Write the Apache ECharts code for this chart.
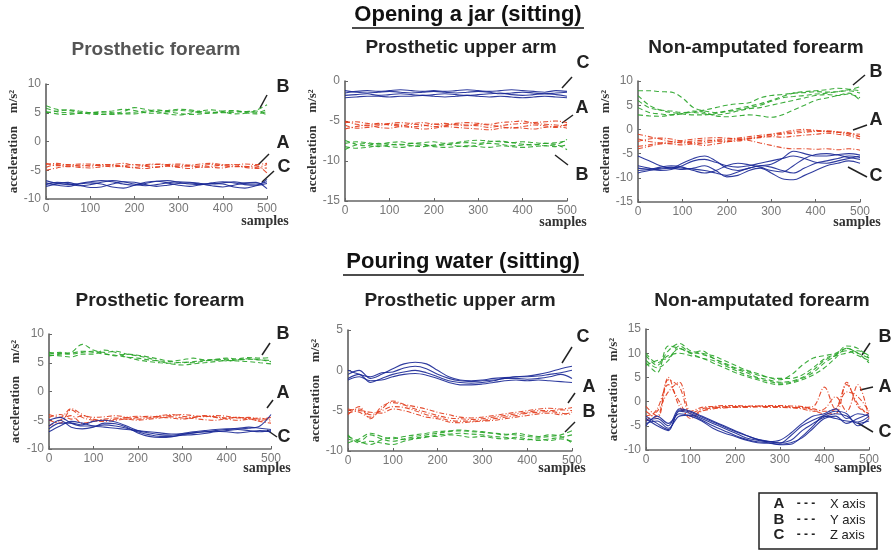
<!DOCTYPE html>
<html><head><meta charset="utf-8">
<script src="https://cdn.jsdelivr.net/npm/echarts@6/dist/echarts.min.js"></script>
<style>html,body{margin:0;padding:0;background:#fff}#c{width:893px;height:552px}</style>
</head><body><div id="c"></div><script>
// sample positions (x)
const samples = [0,25,50,75,100,125,150,175,200,225,250,275,300,325,350,375,400,425,450,475,500];

// ---- Opening a jar : prosthetic forearm ----
const jarForearmX = [
 [-3.8,-4.2,-4.0,-4.3,-4.1,-4.2,-4.4,-4.2,-4.0,-4.3,-4.5,-4.2,-4.1,-4.3,-4.2,-4.0,-4.2,-4.4,-4.3,-4.5,-4.0],
 [-4.5,-4.0,-4.4,-4.1,-4.3,-4.0,-4.1,-4.3,-4.5,-4.2,-4.0,-4.1,-4.4,-4.2,-4.5,-4.3,-4.1,-4.0,-4.4,-4.2,-5.5],
 [-5.0,-4.6,-4.3,-4.5,-4.6,-4.4,-4.2,-4.4,-4.6,-4.7,-4.4,-4.3,-4.5,-4.7,-4.4,-4.5,-4.6,-4.3,-4.5,-4.7,-4.6],
 [-4.0,-3.8,-4.1,-3.9,-3.9,-4.1,-4.0,-3.8,-4.1,-4.0,-3.9,-4.0,-3.9,-4.1,-3.9,-3.8,-4.0,-4.1,-3.9,-4.0,-3.8]];
const jarForearmY = [
 [5.8,5.2,5.0,4.9,5.0,5.1,5.3,5.6,5.4,5.0,4.9,5.2,5.4,5.3,5.0,4.9,5.1,5.3,5.2,5.0,5.6],
 [5.2,4.8,4.7,4.9,5.0,5.2,5.0,4.8,4.8,5.1,5.3,5.4,5.6,5.5,5.2,5.1,5.0,5.1,5.2,5.3,4.6],
 [6.2,5.6,5.4,5.1,4.8,4.7,4.9,5.2,5.9,5.6,5.2,4.8,4.6,4.9,5.3,5.5,5.2,4.8,4.9,5.4,6.4],
 [5.0,5.3,5.5,5.3,5.0,4.8,4.7,4.9,5.1,5.3,5.5,5.2,4.9,4.7,4.8,5.0,5.3,5.4,5.0,4.8,5.2]];
const jarForearmZ = [
 [-6.8,-7.3,-7.5,-7.3,-7.0,-6.8,-7.0,-7.4,-7.6,-7.3,-6.9,-6.8,-7.1,-7.4,-7.5,-7.2,-7.0,-7.2,-7.5,-7.6,-6.6],
 [-7.8,-7.4,-7.1,-7.6,-8.0,-7.9,-7.4,-7.0,-7.1,-7.5,-7.8,-7.6,-7.3,-7.2,-7.4,-7.7,-7.9,-7.6,-7.2,-7.1,-8.2],
 [-7.2,-7.6,-7.8,-7.4,-7.2,-7.4,-7.9,-8.1,-7.6,-7.1,-6.9,-7.2,-7.6,-7.8,-7.5,-7.3,-7.4,-7.9,-8.1,-7.7,-7.3],
 [-7.5,-7.1,-7.3,-7.7,-7.5,-7.1,-6.8,-7.0,-7.4,-7.7,-7.5,-7.2,-7.0,-7.1,-7.3,-7.4,-7.2,-7.0,-7.3,-7.4,-7.0]];

// ---- Opening a jar : prosthetic upper arm ----
const jarUpperX = [
 [-5.0,-5.4,-5.6,-5.3,-5.5,-5.6,-5.4,-5.5,-5.7,-5.6,-5.4,-5.5,-5.6,-5.8,-5.6,-5.4,-5.3,-5.2,-5.1,-5.0,-5.2],
 [-6.0,-5.7,-5.5,-5.8,-5.9,-5.7,-5.8,-6.0,-5.9,-5.7,-5.8,-5.9,-6.0,-6.1,-5.9,-5.8,-5.9,-6.0,-5.8,-5.7,-5.9],
 [-5.5,-5.9,-5.8,-5.6,-5.4,-5.5,-5.7,-5.6,-5.4,-5.3,-5.5,-5.6,-5.4,-5.5,-5.7,-5.9,-5.7,-5.5,-5.6,-5.8,-5.4],
 [-5.2,-5.1,-5.3,-5.4,-5.3,-5.2,-5.3,-5.2,-5.4,-5.5,-5.3,-5.2,-5.3,-5.4,-5.2,-5.1,-5.0,-5.3,-5.4,-5.5,-5.6]];
const jarUpperY = [
 [-7.4,-7.9,-8.1,-7.8,-7.9,-8.0,-7.8,-7.9,-8.1,-8.0,-7.8,-7.7,-7.8,-7.6,-7.5,-7.7,-7.9,-8.0,-7.8,-7.9,-7.3],
 [-8.6,-8.0,-7.8,-8.2,-8.0,-7.9,-8.1,-8.2,-8.0,-7.9,-8.1,-8.2,-8.0,-7.8,-7.9,-8.1,-8.0,-7.9,-8.1,-8.0,-8.6],
 [-8.2,-8.4,-8.3,-8.1,-8.2,-8.3,-8.1,-8.0,-8.2,-8.3,-8.2,-8.1,-8.2,-8.3,-8.1,-8.2,-8.3,-8.2,-8.1,-8.2,-8.0],
 [-7.8,-7.6,-7.7,-7.9,-7.7,-7.6,-7.8,-7.7,-7.6,-7.8,-7.7,-7.5,-7.4,-7.5,-7.6,-7.7,-7.6,-7.7,-7.8,-7.7,-7.5]];
const jarUpperZ = [
 [-1.2,-1.4,-1.5,-1.4,-1.3,-1.4,-1.5,-1.4,-1.3,-1.4,-1.5,-1.4,-1.3,-1.4,-1.6,-1.5,-1.4,-1.5,-1.6,-1.5,-1.4],
 [-1.8,-1.7,-1.6,-1.8,-1.7,-1.6,-1.7,-1.8,-1.7,-1.6,-1.7,-1.8,-1.7,-1.6,-1.5,-1.7,-1.8,-1.7,-1.6,-1.7,-1.9],
 [-2.1,-2.0,-1.9,-1.9,-2.0,-1.9,-1.9,-1.8,-1.9,-2.0,-1.9,-1.8,-1.9,-2.0,-1.9,-2.0,-2.1,-2.0,-1.9,-2.0,-2.1],
 [-1.5,-1.3,-1.2,-1.3,-1.2,-1.1,-1.2,-1.3,-1.2,-1.3,-1.2,-1.1,-1.2,-1.3,-1.2,-1.1,-1.2,-1.3,-1.4,-1.2,-1.3]];

// ---- Opening a jar : non-amputated forearm ----
const jarNonampX = [
 [-1.0,-1.5,-2.0,-2.5,-2.8,-2.7,-2.5,-2.2,-2.0,-1.8,-1.5,-1.2,-1.0,-0.8,-0.5,-0.3,-0.3,-0.5,-0.6,-0.8,-1.0],
 [-2.0,-2.5,-2.8,-3.0,-3.2,-3.0,-2.8,-2.5,-2.3,-2.0,-1.8,-1.5,-1.3,-1.0,-0.8,-0.6,-0.4,-0.3,-0.5,-0.7,-1.5],
 [-3.5,-3.2,-2.8,-2.5,-2.3,-2.0,-1.8,-1.7,-1.8,-2.0,-2.3,-2.8,-3.3,-3.8,-4.0,-4.0,-4.1,-4.0,-4.2,-4.0,-4.3],
 [-2.5,-2.0,-1.8,-2.0,-2.5,-3.0,-3.3,-3.0,-2.6,-2.2,-1.9,-1.7,-1.5,-1.6,-1.4,-1.2,-1.0,-0.8,-1.0,-1.3,-2.0],
 [-4.0,-3.5,-3.0,-2.8,-2.6,-2.4,-2.2,-2.3,-2.5,-2.4,-2.0,-1.6,-1.0,-0.6,-0.2,0.0,-0.2,-0.4,-0.6,-1.0,-1.5]];
const jarNonampY = [
 [8.0,8.0,7.8,7.7,6.5,4.5,3.8,3.5,3.8,4.3,4.8,5.3,6.0,6.8,7.5,7.8,8.0,8.2,8.5,8.3,8.0],
 [6.0,4.5,4.0,3.8,3.5,3.6,4.0,4.5,5.0,5.3,5.5,6.5,7.0,7.2,7.5,7.6,7.8,7.7,7.8,8.0,7.5],
 [3.0,2.8,2.7,3.0,3.3,3.5,3.2,3.0,3.3,3.8,4.3,4.5,5.0,5.5,6.0,6.5,7.0,7.2,7.0,7.3,6.5],
 [4.5,3.5,3.2,3.0,3.2,3.8,3.5,2.8,2.6,2.8,3.0,2.8,2.5,3.0,4.0,5.0,6.0,6.5,7.0,7.5,6.0],
 [7.0,5.0,4.0,3.5,3.2,3.0,3.0,3.3,3.7,4.0,4.5,5.0,5.8,6.5,6.8,7.0,7.3,7.5,7.8,8.2,8.8]];
const jarNonampZ = [
 [-5.5,-6.5,-7.5,-8.0,-7.0,-6.0,-5.5,-6.5,-8.0,-8.5,-8.0,-7.5,-7.2,-6.0,-4.5,-5.0,-5.5,-5.5,-5.2,-5.0,-5.3],
 [-8.0,-8.2,-8.0,-7.8,-8.0,-8.2,-8.5,-9.0,-9.5,-8.8,-8.0,-7.5,-7.8,-8.5,-9.0,-8.0,-7.0,-6.5,-6.0,-5.5,-5.8],
 [-9.0,-8.5,-8.2,-8.0,-8.3,-8.0,-7.5,-8.5,-9.8,-9.5,-8.5,-8.0,-9.0,-10.2,-10.4,-9.5,-8.5,-7.5,-7.0,-6.5,-7.0],
 [-7.5,-8.0,-8.5,-8.3,-7.5,-6.5,-6.2,-6.8,-7.5,-7.8,-7.5,-7.0,-6.5,-6.0,-5.5,-6.0,-6.8,-7.0,-6.5,-6.0,-5.5],
 [-8.5,-8.3,-7.8,-7.5,-7.8,-8.5,-9.0,-8.5,-7.5,-7.0,-7.3,-7.8,-8.5,-8.8,-7.5,-6.0,-5.2,-5.0,-5.3,-5.8,-6.2]];

// ---- Pouring water : prosthetic forearm ----
const waterForearmX = [
 [-4.0,-4.5,-3.0,-4.0,-4.8,-5.0,-4.8,-4.5,-4.3,-4.5,-4.2,-4.0,-4.3,-4.5,-4.2,-4.4,-4.6,-4.5,-4.8,-5.0,-4.8],
 [-6.0,-5.0,-4.2,-5.5,-5.2,-4.8,-4.6,-4.8,-4.5,-4.3,-4.5,-4.6,-4.8,-4.5,-4.3,-4.5,-4.8,-5.0,-4.8,-4.6,-5.2],
 [-5.0,-5.5,-3.2,-4.5,-5.0,-5.2,-5.0,-4.8,-5.0,-4.8,-4.6,-4.4,-4.6,-4.7,-4.9,-5.0,-4.7,-4.5,-4.7,-5.2,-5.5],
 [-4.5,-4.0,-4.8,-4.2,-4.5,-4.4,-4.2,-4.5,-4.8,-4.6,-4.3,-4.2,-4.0,-4.2,-4.4,-4.2,-4.3,-4.6,-4.5,-4.8,-4.5]];
const waterForearmY = [
 [6.5,6.8,6.7,7.0,6.8,6.5,6.3,6.0,5.8,5.5,5.3,5.2,5.0,5.2,5.4,5.5,5.6,5.5,5.6,5.5,5.4],
 [6.2,6.5,6.8,8.2,7.2,6.8,7.0,6.5,6.2,5.8,5.2,4.8,4.6,4.8,5.0,5.2,5.4,5.3,5.2,5.0,4.8],
 [6.8,6.6,6.5,6.8,7.0,6.6,6.2,6.5,6.3,6.0,5.6,5.3,5.5,5.8,5.5,5.6,5.8,5.7,5.9,5.8,5.9],
 [6.3,6.2,6.0,6.5,6.5,7.2,6.8,6.0,5.5,5.2,5.0,4.9,5.1,5.0,5.3,5.5,5.3,5.5,5.7,5.5,5.2]];
const waterForearmZ = [
 [-6.5,-5.5,-5.5,-5.8,-5.2,-5.0,-5.3,-6.0,-6.8,-7.2,-7.5,-7.6,-7.4,-7.2,-7.0,-6.8,-6.6,-6.5,-6.4,-6.0,-4.0],
 [-5.0,-4.5,-5.5,-6.0,-6.0,-5.8,-6.0,-6.4,-7.0,-7.5,-7.8,-7.8,-7.6,-7.5,-7.3,-7.0,-6.8,-6.6,-6.8,-7.0,-6.8],
 [-7.0,-6.0,-5.2,-5.5,-6.0,-6.2,-6.4,-6.6,-6.8,-7.0,-7.2,-7.4,-7.3,-7.0,-6.8,-6.6,-6.5,-6.4,-6.2,-6.4,-6.6],
 [-6.0,-5.0,-6.2,-6.5,-6.2,-5.5,-5.6,-6.2,-7.2,-7.8,-8.0,-7.9,-7.5,-7.2,-7.0,-6.9,-7.0,-7.2,-7.0,-6.8,-7.0]];

// ---- Pouring water : prosthetic upper arm ----
const waterUpperX = [
 [-5.5,-4.5,-6.0,-4.5,-4.0,-4.3,-4.8,-5.2,-5.6,-5.9,-6.0,-6.1,-6.0,-5.8,-5.6,-5.4,-5.2,-5.0,-5.0,-4.9,-5.0],
 [-5.0,-4.8,-5.5,-5.0,-4.5,-4.6,-5.0,-5.5,-5.8,-6.2,-6.3,-6.3,-6.2,-6.0,-5.8,-5.6,-5.3,-5.2,-5.1,-5.3,-5.5],
 [-4.8,-5.2,-5.8,-4.8,-3.8,-4.2,-4.5,-4.8,-5.2,-5.5,-5.8,-5.9,-5.8,-5.6,-5.4,-5.2,-5.0,-4.8,-4.7,-4.8,-4.6],
 [-5.3,-5.0,-5.2,-5.3,-4.8,-5.0,-5.4,-5.8,-6.0,-6.4,-6.5,-6.4,-6.3,-6.2,-6.0,-5.8,-5.6,-5.4,-5.3,-5.5,-5.2]];
const waterUpperY = [
 [-8.5,-8.8,-8.0,-8.5,-8.8,-8.5,-8.2,-8.0,-7.8,-7.6,-7.5,-7.6,-7.7,-7.8,-7.9,-8.0,-8.2,-8.3,-8.2,-8.0,-7.5],
 [-8.0,-9.0,-8.8,-9.0,-9.2,-8.8,-8.5,-8.3,-8.0,-7.9,-7.8,-7.9,-8.0,-8.2,-8.3,-8.5,-8.6,-8.5,-8.7,-8.5,-8.8],
 [-9.0,-8.5,-7.8,-8.2,-8.5,-8.2,-8.0,-7.8,-7.6,-7.5,-7.4,-7.5,-7.6,-7.8,-8.0,-7.8,-8.0,-8.2,-8.0,-8.2,-9.0],
 [-8.2,-8.8,-9.2,-8.6,-8.3,-8.6,-8.4,-8.2,-8.2,-8.0,-8.1,-8.3,-8.2,-8.4,-8.5,-8.3,-8.5,-8.7,-8.5,-8.3,-8.0]];
const waterUpperZ = [
 [-0.5,0.0,-1.0,-0.5,0.2,0.8,1.0,0.8,0.0,-0.8,-1.2,-1.3,-1.2,-1.0,-0.9,-0.8,-0.7,-0.5,-0.2,0.2,0.5],
 [-1.0,-0.5,-1.5,-1.0,-0.5,-0.2,0.0,-0.3,-0.8,-1.3,-1.5,-1.6,-1.5,-1.3,-1.0,-1.0,-1.1,-1.0,-0.8,-0.5,-1.0],
 [0.0,-0.5,-0.8,-0.3,-0.2,0.3,0.5,0.2,-0.5,-1.0,-1.3,-1.4,-1.3,-1.2,-1.0,-0.8,-0.8,-0.7,-0.5,-0.3,0.0],
 [-1.2,-0.8,-1.3,-1.2,-0.8,-0.5,-0.4,-0.6,-1.0,-1.5,-1.8,-1.8,-1.7,-1.5,-1.3,-1.2,-1.3,-1.2,-1.3,-1.4,-1.5]];

// ---- Pouring water : non-amputated forearm ----
const waterNonampX = [
 [-1.0,-3.0,4.5,3.0,-2.5,-1.5,-1.2,-1.0,-1.0,-1.0,-1.0,-1.0,-1.1,-1.2,-1.3,-1.5,-2.0,-1.5,3.5,-0.5,-3.0],
 [-2.0,-3.5,5.0,-1.0,-3.0,-1.8,-1.3,-1.2,-1.1,-1.0,-0.9,-1.0,-1.0,-1.1,-1.2,-1.0,3.0,-1.5,2.0,1.0,-2.0],
 [-3.0,-2.0,2.0,4.0,-2.0,-1.2,-1.0,-0.8,-0.8,-0.9,-0.9,-0.8,-0.8,-0.9,-1.0,-1.8,-2.5,-2.5,4.0,-1.0,-2.5],
 [-4.0,-1.5,3.5,0.0,-3.5,-2.0,-1.5,-1.3,-1.2,-1.2,-1.1,-1.2,-1.2,-1.3,-1.5,-2.0,-1.5,1.0,-2.0,3.5,-3.5]];
const waterNonampY = [
 [8.0,6.0,11.5,11.0,10.2,9.8,9.0,8.0,7.0,6.3,5.5,5.0,4.5,5.5,7.5,9.0,9.5,10.0,11.0,10.0,9.0],
 [9.5,7.5,10.5,12.0,10.5,10.0,9.5,8.5,7.5,6.5,5.8,5.0,4.8,4.8,5.5,7.0,8.8,9.8,10.5,9.5,8.5],
 [7.5,8.5,9.0,11.0,10.0,10.5,9.0,7.8,6.8,6.0,5.0,4.5,4.0,4.2,5.0,6.5,8.5,9.5,10.0,10.5,9.5],
 [10.0,8.0,9.5,10.0,9.5,9.0,8.0,7.0,6.0,5.2,4.5,3.8,3.5,3.8,4.5,5.5,7.0,9.0,11.0,10.0,8.0],
 [8.5,7.0,8.5,11.5,10.0,9.0,8.5,7.5,6.5,5.5,4.8,4.2,3.8,4.0,4.8,6.0,8.0,9.5,11.5,11.0,9.0]];
const waterNonampZ = [
 [-3.0,-4.5,-5.8,-2.0,-2.5,-3.5,-4.5,-5.5,-6.5,-7.5,-8.0,-8.3,-8.0,-6.5,-4.5,-3.0,-2.5,-1.5,-3.5,-2.5,-3.0],
 [-4.0,-3.5,-5.0,-1.5,-2.0,-3.0,-4.0,-5.0,-6.0,-7.0,-7.8,-8.2,-8.5,-8.0,-6.0,-4.5,-3.2,-2.5,-3.0,-4.5,-4.0],
 [-5.0,-3.0,-4.5,-2.5,-3.0,-4.0,-5.5,-6.5,-7.2,-8.0,-8.5,-8.6,-8.8,-8.5,-7.5,-5.5,-3.5,-3.0,-4.5,-3.5,-2.5],
 [-3.5,-5.0,-6.0,-1.8,-2.2,-3.2,-4.2,-5.2,-6.2,-7.0,-7.8,-8.3,-8.6,-7.0,-5.0,-3.8,-2.8,-2.0,-2.5,-5.0,-3.5],
 [-4.5,-4.0,-5.5,-3.0,-2.8,-3.8,-5.0,-6.0,-7.0,-7.8,-8.3,-8.5,-8.9,-8.8,-7.2,-5.0,-3.0,-3.5,-4.0,-4.2,-3.0]];

// axis ranges per panel
const yMins = [-10, -15, -15, -10, -10, -10];
const yMaxs = [10, 0, 10, 10, 5, 15];

const panelTitles = ['Prosthetic forearm','Prosthetic upper arm','Non-amputated forearm','Prosthetic forearm','Prosthetic upper arm','Non-amputated forearm'];
const sectionTitles = ['Opening a jar (sitting)', 'Pouring water (sitting)'];
const panelData = [
  [jarForearmX, jarForearmY, jarForearmZ],
  [jarUpperX, jarUpperY, jarUpperZ],
  [jarNonampX, jarNonampY, jarNonampZ],
  [waterForearmX, waterForearmY, waterForearmZ],
  [waterUpperX, waterUpperY, waterUpperZ],
  [waterNonampX, waterNonampY, waterNonampZ]];

// layout (pixels)
const grids = [
  {left:46, top:84, width:221, height:115},
  {left:345, top:81, width:222, height:120},
  {left:638, top:81, width:222, height:121},
  {left:49, top:334, width:222, height:115},
  {left:348, top:330, width:224, height:121},
  {left:646, top:329, width:223, height:121}];
const nameGaps = [21, 20, 18, 27, 20, 22];

const axisStyles = [
  {color:'#e23c1c', type:[5,2,1,2]},   // X axis (A)
  {color:'#28a428', type:[5,3]},       // Y axis (B)
  {color:'#1a2896', type:'solid'}];    // Z axis (C)

const SANS = 'Liberation Sans, Arial, sans-serif';
const SERIF = 'Liberation Serif, Times New Roman, serif';

const xAxes = [], yAxes = [], series = [];
grids.forEach((g, i) => {
  xAxes.push({type:'value', gridIndex:i, min:0, max:500, interval:100,
    axisLine:{show:true, onZero:false, lineStyle:{color:'#666', width:1.5}},
    axisTick:{show:true, inside:true, length:3, lineStyle:{color:'#666'}},
    axisLabel:{color:'#777', fontSize:12, fontFamily:SANS, margin:4},
    splitLine:{show:false}});
  yAxes.push({type:'value', gridIndex:i, min:yMins[i], max:yMaxs[i], interval:5,
    axisLine:{show:true, onZero:false, lineStyle:{color:'#555', width:1.5}},
    axisTick:{show:true, inside:true, length:3, lineStyle:{color:'#666'}},
    axisLabel:{color:'#777', fontSize:12, fontFamily:SANS, margin:5},
    splitLine:{show:false},
    name:'acceleration    m/s\u00B2', nameLocation:'middle', nameGap:nameGaps[i],
    nameTextStyle:{fontFamily:SERIF, fontWeight:'bold', fontSize:13, color:'#333'}});
  panelData[i].forEach((trials, a) => {
    trials.forEach(tr => {
      series.push({type:'line', xAxisIndex:i, yAxisIndex:i, showSymbol:false, smooth:0.35,
        silent:true, animation:false,
        data: samples.map((s, k) => [s, tr[k]]),
        lineStyle:{color:axisStyles[a].color, type:axisStyles[a].type, width:1.1, opacity:0.9}});
    });
  });
});

// annotation graphics
const g = [];
function txt(x, y, t, font, fill, align){ g.push({type:'text', x, y, style:{text:t, font, fill:fill||'#222', align:align||'center', verticalAlign:'middle'}}); }
function ln(x1, y1, x2, y2, w, c){ g.push({type:'line', shape:{x1,y1,x2,y2}, style:{stroke:c||'#111', lineWidth:w||1.5}}); }

// section titles with underline
txt(468, 15, sectionTitles[0], 'bold 22px ' + SANS, '#111');
ln(352, 28, 584, 28, 1.5, '#111');
txt(463, 262, sectionTitles[1], 'bold 22px ' + SANS, '#111');
ln(343, 275, 584, 275, 1.5, '#111');

// panel titles
const titlePos = [[156,50,'#555'],[461,48,'#222'],[756,48,'#222'],[160,301,'#222'],[460,301,'#222'],[762,301,'#222']];
titlePos.forEach((p, i) => txt(p[0], p[1], panelTitles[i], 'bold 19px ' + SANS, p[2]));

// "samples" labels
const samplesPos = [[265,221],[563,222],[857,222],[267,468],[562,468],[858,468]];
samplesPos.forEach(p => txt(p[0], p[1], 'samples', 'bold 14px ' + SERIF, '#333'));

// letter annotations
const letters = [
  ['B',283,87, 260,108,267,95], ['A',283,143, 258,165,269,154], ['C',284,167, 262,182,274,171],
  ['C',583,63, 562,88,572,77], ['A',582,108, 562,123,573,115], ['B',582,175, 555,155,568,165],
  ['B',876,72, 853,85,865,75], ['A',876,120, 853,130,867,125], ['C',876,176, 848,167,867,177],
  ['B',283,334, 262,355,270,343], ['A',283,393, 267,408,273,400], ['C',284,437, 267,430,277,437],
  ['C',583,337, 562,363,572,347], ['A',589,387, 568,403,575,393], ['B',589,412, 565,432,575,422],
  ['B',885,337, 862,355,870,343], ['A',885,387, 860,390,873,387], ['C',885,432, 858,423,873,432]];
letters.forEach(l => { txt(l[1], l[2], l[0], 'bold 18px ' + SANS, '#222'); ln(l[3], l[4], l[5], l[6], 1.5, '#222'); });

// legend box
g.push({type:'rect', shape:{x:759, y:493, width:118, height:56}, style:{fill:'#fff', stroke:'#222', lineWidth:1.5}});
const legendRows = [['A','X axis',504],['B','Y axis',520],['C','Z axis',535]];
legendRows.forEach(r => {
  txt(779, r[2], r[0], 'bold 15px ' + SANS, '#222');
  txt(806, r[2], '- - -', 'bold 12px ' + SANS, '#222');
  txt(830, r[2], r[1], '13px ' + SANS, '#222', 'left');
});

const chart = echarts.init(document.getElementById('c'), null, {renderer:'canvas'});
chart.setOption({
  animation:false,
  backgroundColor:'#fff',
  grid: grids.map(gr => Object.assign({containLabel:false}, gr)),
  xAxis: xAxes, yAxis: yAxes, series,
  graphic: g
});
</script></body></html>
